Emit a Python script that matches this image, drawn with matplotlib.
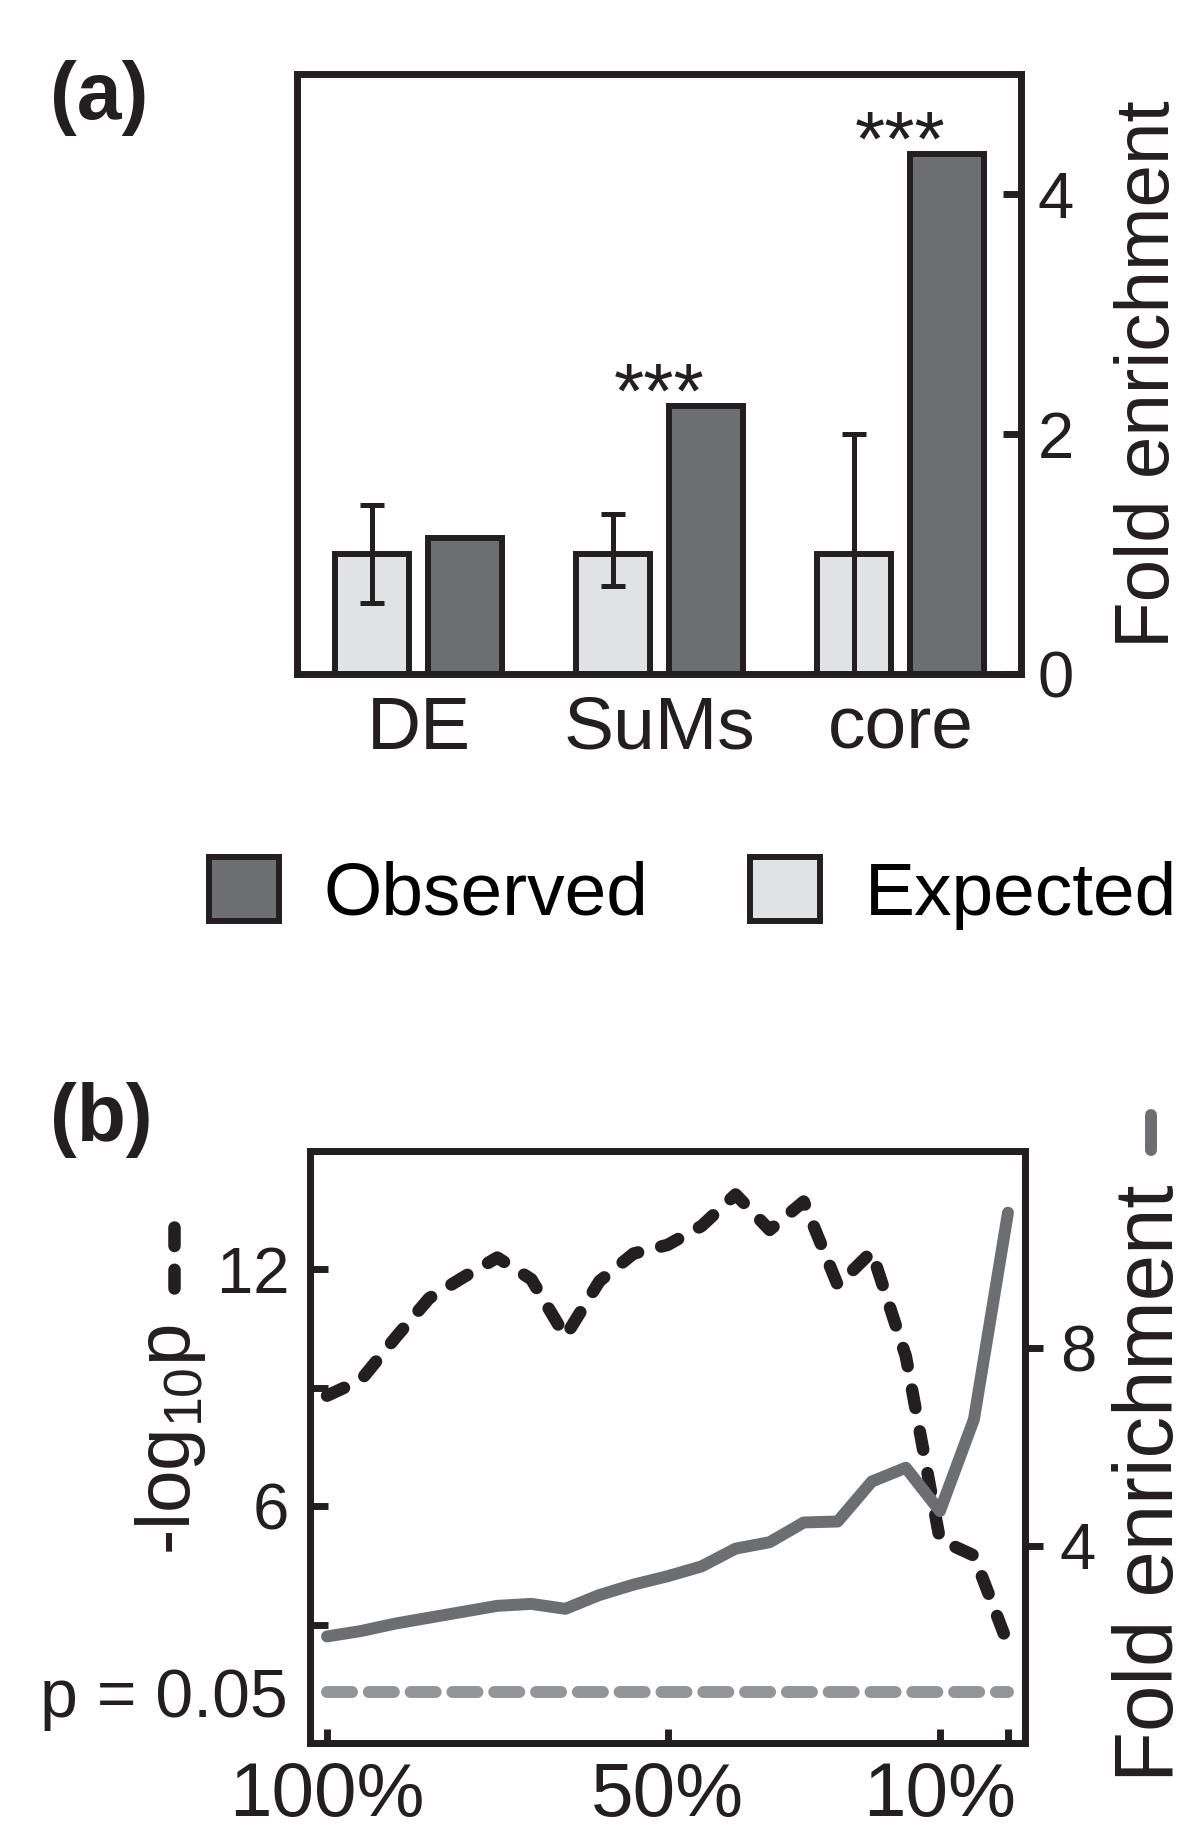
import matplotlib
matplotlib.use('Agg')
import numpy as np
import matplotlib.pyplot as plt
from matplotlib.patches import Patch
from matplotlib.lines import Line2D

plt.rcParams['font.family'] = ['Liberation Sans', 'DejaVu Sans']
plt.rcParams['mathtext.default'] = 'regular'

# panel (a) data
groups = ['DE', 'SuMs', 'core']
observed = [1.13, 2.23, 4.33]
expected = [1.0, 1.0, 1.0]
exp_err_lo = [0.41, 0.27, 1.0]
exp_err_hi = [0.41, 0.33, 1.0]
signif = ['', '***', '***']

# panel (b) data
pct = [100, 95, 90, 85, 80, 75, 70, 65, 60, 55, 50, 45, 40, 35, 30, 25, 20, 15, 10, 5, 0]
neg_log_p = [8.8, 9.2, 10.26, 11.27, 11.8, 12.3, 11.75, 10.3, 11.7, 12.4, 12.62, 13.1,
             13.9, 13.0, 13.72, 11.6, 12.45, 9.8, 5.15, 4.75, 2.5]
fold_enr = [2.16, 2.27, 2.42, 2.54, 2.66, 2.78, 2.82, 2.72, 3.0, 3.21, 3.38, 3.58,
            3.94, 4.07, 4.47, 4.49, 5.3, 5.58, 4.7, 6.56, 10.75]
p_thresh = 1.3  # -log10(0.05)

BLACK = '#231f20'
DARK = '#6d6e71'
LIGHT = '#e1e2e3'
PGRAY = '#939598'

W, H = 1200, 1843


def fx(px):
    return px / W


def fy(py):
    return 1 - py / H


fig = plt.figure(figsize=(12, 18.43), dpi=100)

# ---- panel (a) ----
ax1 = fig.add_axes([fx(297), fy(674), (1021 - 297) / W, (674 - 74) / H])
x = np.arange(len(groups))
off, width = 0.193, 0.305
ax1.bar(x - off, expected, width, color=LIGHT, edgecolor=BLACK, linewidth=4.3,
        yerr=[exp_err_lo, exp_err_hi],
        error_kw=dict(ecolor=BLACK, elinewidth=3.6, capsize=8.6, capthick=3.6), zorder=2)
ax1.bar(x + off, observed, width, color=DARK, edgecolor=BLACK, linewidth=4.3, zorder=2)
for i, s in enumerate(signif):
    if s:
        ax1.annotate(s, xy=(x[i], observed[i]), xytext=(0, -8), textcoords='offset points',
                     ha='center', va='baseline', fontsize=56, color=BLACK)
ax1.set_xlim(-0.505, 2.5)
ax1.set_ylim(0, 5)
ax1.yaxis.tick_right()
ax1.set_yticks([0, 2, 4])
ax1.tick_params(axis='y', direction='in', length=13, width=5, labelsize=47, pad=12,
                color=BLACK, labelcolor=BLACK)
ax1.set_xticks(x, groups)
ax1.tick_params(axis='x', length=0, labelsize=54, pad=15, labelcolor=BLACK)
for sp in ax1.spines.values():
    sp.set_linewidth(5)
    sp.set_color(BLACK)
    sp.set_zorder(5)

fig.text(fx(1169), fy(374), 'Fold enrichment', rotation=90, rotation_mode='anchor',
         ha='center', va='baseline', fontsize=55, color=BLACK)
fig.text(fx(50), fy(60), '(a)', ha='left', va='top', fontsize=58, fontweight='bold', color=BLACK)

handles = [Patch(facecolor=DARK, edgecolor=BLACK, linewidth=4.3),
           Patch(facecolor=LIGHT, edgecolor=BLACK, linewidth=4.3)]
fig.legend(handles, ['Observed', 'Expected'], loc='upper left',
           bbox_to_anchor=(fx(209), fy(857)), ncol=2, frameon=False, fontsize=54,
           handlelength=0.93, handleheight=0.93, handletextpad=0.6, columnspacing=1.35,
           borderpad=0, borderaxespad=0)

# ---- panel (b) ----
ax2 = fig.add_axes([fx(310), fy(1743), (1025 - 310) / W, (1743 - 1151) / H])
ax2.plot(pct, neg_log_p, color=BLACK, lw=9, dashes=(1.5, 1.9), dash_capstyle='round',
         zorder=3)
ax2.plot([pct[0], pct[-1]], [p_thresh, p_thresh], color=PGRAY, lw=8.6, dashes=(2.1, 1.4),
         dash_capstyle='round', zorder=3)
ax2.set_xlim(102.5, -2.5)
ax2.set_ylim(0, 15)
ax2.set_yticks([3, 6, 9, 12], ['', '6', '', '12'])
ax2.tick_params(axis='y', direction='in', length=13, width=5, labelsize=47, pad=15,
                color=BLACK, labelcolor=BLACK)
ax2.set_xticks([100, 50, 10, 0], ['100%', '50%', '10%', ''])
ax2.tick_params(axis='x', direction='in', length=10, width=5, labelsize=55, pad=13,
                color=BLACK, labelcolor=BLACK)
ax2.text(-0.031, p_thresh, 'p = 0.05', transform=ax2.get_yaxis_transform(),
         ha='right', va='center_baseline', fontsize=49, color=BLACK)

ax3 = ax2.twinx()
ax3.plot(pct, fold_enr, color=DARK, lw=8.6, solid_capstyle='round', zorder=3)
ax3.set_ylim(0, 12)
ax3.set_yticks([4, 8])
ax3.tick_params(axis='y', direction='out', length=13, width=5, labelsize=47, pad=12,
                color=BLACK, labelcolor=BLACK)
for ax in (ax2, ax3):
    for sp in ax.spines.values():
        sp.set_linewidth(5)
        sp.set_color(BLACK)
        sp.set_zorder(5)

fig.text(fx(190), fy(1555), r'-log$_{10}$p', rotation=90, rotation_mode='anchor',
         ha='left', va='baseline', fontsize=55, color=BLACK)
fig.add_artist(Line2D([fx(174), fx(174)], [fy(1288), fy(1227)], color=BLACK, lw=9,
                      dashes=(1.5, 1.9), dash_capstyle='round'))
fig.text(fx(1173), fy(1483), 'Fold enrichment', rotation=90, rotation_mode='anchor',
         ha='center', va='baseline', fontsize=60, color=BLACK)
fig.add_artist(Line2D([fx(1151), fx(1151)], [fy(1150), fy(1115)], color=DARK, lw=8.6,
                      solid_capstyle='round'))
fig.text(fx(50), fy(1082), '(b)', ha='left', va='top', fontsize=58, fontweight='bold', color=BLACK)

fig.savefig('out.png', dpi=100)
